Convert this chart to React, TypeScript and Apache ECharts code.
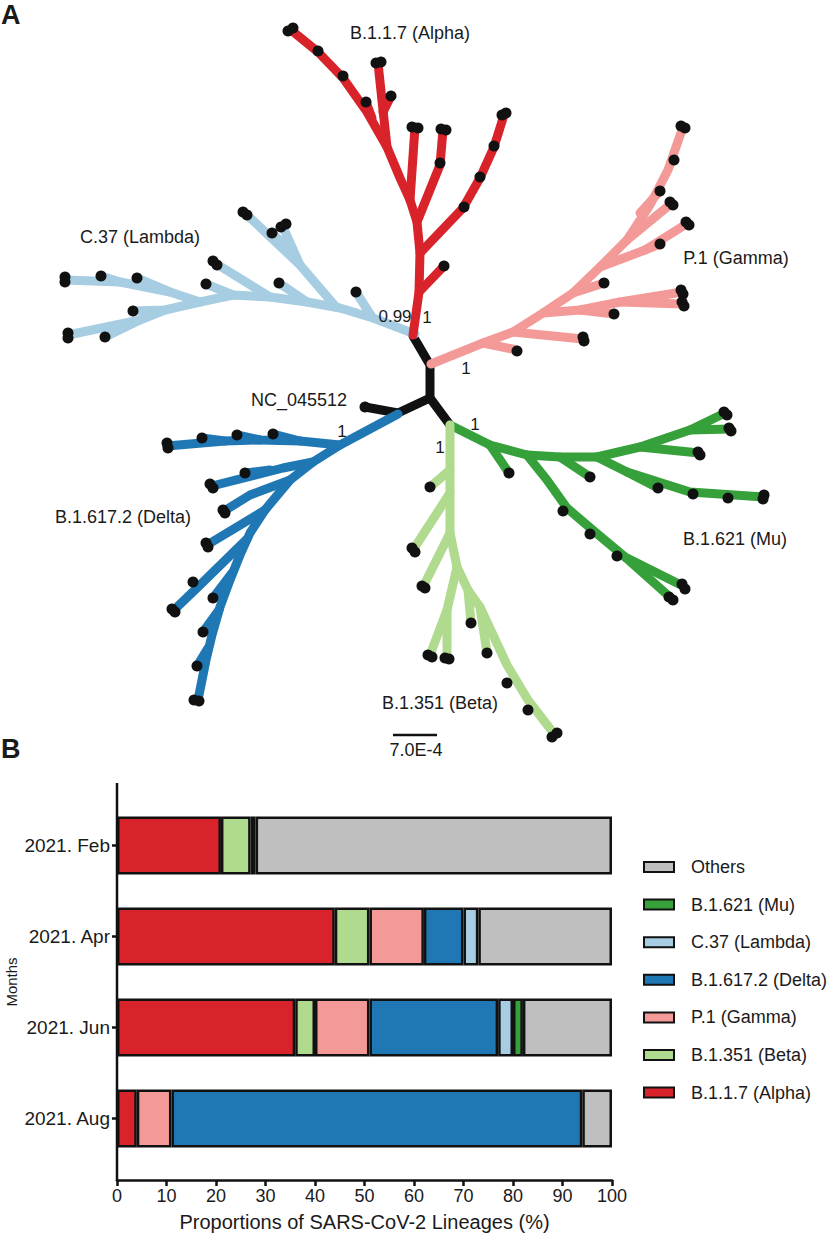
import React, { useEffect, useRef } from "react";
import * as echarts from "echarts";

// ---------- Panel B data ----------
const months = ["2021. Feb", "2021. Apr", "2021. Jun", "2021. Aug"];
const alphaShare = [21, 44, 36, 4];
const betaShare = [6, 7, 4, 0];
const gammaShare = [1, 11, 11, 7];
const deltaShare = [0, 8, 26, 83];
const lambdaShare = [0, 3, 3, 0];
const muShare = [0, 0, 2, 0];
const othersShare = [72, 27, 18, 6];
const xTicks = [0, 10, 20, 30, 40, 50, 60, 70, 80, 90, 100];

// ---------- Panel A tree data (tree-layout units) ----------
type Pt = [number, number];
const rootBranches: Pt[][] = [
  [[413, 336], [430, 365], [430, 398], [450, 425]],
  [[430, 398], [398, 413], [365, 407]],
];
const rootTips: Pt[] = [[365, 407]];

const alphaBranches: Pt[][] = [
  [[413, 335], [419, 292], [420, 253], [417, 222], [410, 200], [400, 178], [387, 147], [367, 112], [343, 78], [318, 52], [291, 30]],
  [[419, 292], [444, 266]],
  [[420, 253], [463, 208], [480, 178], [494, 147], [504, 115]],
  [[417, 222], [440, 165], [443, 130]],
  [[410, 200], [415, 127]],
  [[387, 147], [383, 110], [378, 63]],
  [[383, 112], [391, 96]],
  [[372, 118], [366, 102]],
];
const alphaTips: Pt[] = [
  [444, 266], [464, 207], [480, 177], [494, 146], [502, 115], [506, 113],
  [440, 163], [441, 129], [446, 130], [412, 127], [418, 128],
  [391, 96], [376, 63], [381, 62], [366, 102], [343, 76], [318, 51], [288, 31], [293, 28],
];

const lambdaBranches: Pt[][] = [
  [[415, 334], [373, 318], [340, 308], [307, 302], [270, 297], [233, 295], [200, 302]],
  [[372, 317], [356, 292]],
  [[336, 307], [300, 265], [245, 213]],
  [[300, 265], [283, 227]],
  [[290, 250], [272, 233]],
  [[307, 302], [279, 283]],
  [[270, 297], [215, 263]],
  [[233, 295], [206, 284]],
  [[200, 302], [170, 292], [137, 278]],
  [[170, 292], [120, 282], [101, 276]],
  [[120, 282], [65, 280]],
  [[200, 302], [165, 310], [133, 311]],
  [[165, 310], [140, 320], [105, 337]],
  [[140, 320], [68, 335]],
];
const lambdaTips: Pt[] = [
  [356, 292], [243, 212], [247, 215], [281, 227], [286, 224], [272, 233], [279, 283],
  [213, 261], [217, 265], [206, 284], [137, 278], [101, 276], [65, 277], [65, 282],
  [133, 311], [105, 337], [68, 333], [68, 338],
];

const deltaBranches: Pt[][] = [
  [[398, 414], [340, 445], [313, 462], [290, 480], [265, 510], [250, 533], [240, 555], [230, 580], [220, 607], [212, 635], [206, 660], [202, 680], [198, 700]],
  [[340, 445], [300, 441], [273, 434]],
  [[300, 441], [260, 440], [237, 435]],
  [[260, 440], [225, 441], [202, 438]],
  [[225, 441], [167, 446]],
  [[313, 462], [283, 468], [212, 486]],
  [[270, 470], [245, 473]],
  [[290, 480], [250, 495], [224, 511]],
  [[265, 510], [207, 545]],
  [[246, 540], [200, 585], [173, 611]],
  [[232, 573], [213, 598]],
  [[219, 610], [203, 632]],
  [[208, 648], [197, 666]],
];
const deltaTips: Pt[] = [
  [273, 434], [237, 435], [202, 438], [167, 443], [168, 448], [245, 473], [210, 484], [213, 488],
  [223, 510], [225, 513], [206, 543], [208, 547], [193, 582], [172, 609], [175, 612],
  [213, 598], [203, 632], [197, 666], [194, 700], [199, 701],
];

const gammaBranches: Pt[][] = [
  [[431, 364], [483, 343], [513, 332], [543, 313], [573, 293], [600, 267], [627, 240], [650, 205], [668, 170], [683, 127]],
  [[483, 343], [517, 350]],
  [[513, 332], [583, 339]],
  [[543, 313], [580, 310], [614, 314]],
  [[580, 310], [620, 302], [682, 292]],
  [[620, 302], [683, 304]],
  [[573, 293], [604, 283]],
  [[600, 267], [645, 250], [688, 223]],
  [[645, 250], [660, 244]],
  [[627, 240], [672, 203]],
  [[640, 213], [660, 191]],
];
const gammaTips: Pt[] = [
  [517, 351], [583, 337], [584, 341], [614, 314], [681, 290], [683, 294], [682, 302], [684, 306],
  [604, 283], [660, 244], [686, 222], [689, 225], [670, 202], [673, 205], [660, 191], [674, 160],
  [681, 126], [685, 128],
];

const muBranches: Pt[][] = [
  [[450, 425], [490, 445], [527, 455], [560, 457], [597, 457]],
  [[490, 445], [509, 473]],
  [[527, 455], [547, 480], [567, 508], [595, 532], [625, 557], [683, 586]],
  [[625, 557], [671, 598]],
  [[560, 457], [590, 477]],
  [[597, 457], [640, 447], [699, 453]],
  [[640, 447], [690, 430], [725, 413]],
  [[690, 430], [730, 429]],
  [[597, 457], [627, 472], [658, 488]],
  [[627, 472], [690, 492], [764, 497]],
];
const muTips: Pt[] = [
  [509, 473], [563, 511], [590, 534], [617, 556], [682, 584], [685, 589], [669, 597], [673, 600],
  [590, 477], [698, 452], [700, 455], [724, 412], [727, 415], [729, 428], [731, 431],
  [658, 488], [693, 494], [728, 498], [764, 495], [763, 499],
];

const betaBranches: Pt[][] = [
  [[450, 425], [450, 470], [450, 493], [450, 533], [457, 567]],
  [[450, 470], [430, 487]],
  [[450, 493], [413, 550]],
  [[450, 533], [423, 587]],
  [[457, 567], [447, 610], [430, 655]],
  [[447, 610], [447, 658]],
  [[457, 567], [468, 590], [471, 623]],
  [[468, 590], [480, 607], [487, 653]],
  [[480, 607], [507, 665], [528, 700], [555, 735]],
];
const betaTips: Pt[] = [
  [430, 487], [412, 548], [415, 552], [422, 586], [425, 588], [428, 655], [432, 657],
  [445, 658], [449, 659], [471, 623], [487, 653], [507, 683], [528, 710], [557, 733], [552, 737],
];

const C = {
  alpha: "#d9232a",
  beta: "#b0da8e",
  gamma: "#f39a98",
  delta: "#1f77b4",
  lambda: "#a6cde2",
  mu: "#36a03a",
  others: "#c0bfbf",
  ink: "#111111",
};

const FONT = "'Liberation Sans', Arial, Helvetica, sans-serif";

function treeSeries(paths: Pt[][], tips: Pt[], color: string, z: number) {
  return [
    {
      type: "lines",
      coordinateSystem: "cartesian2d",
      xAxisIndex: 0,
      yAxisIndex: 0,
      polyline: true,
      silent: true,
      z,
      data: paths.map((p) => ({ coords: p })),
      lineStyle: { color, width: 9, opacity: 1, cap: "round", join: "round", curveness: 0 },
    },
    {
      type: "scatter",
      xAxisIndex: 0,
      yAxisIndex: 0,
      silent: true,
      z: 10,
      symbolSize: 11,
      data: tips,
      itemStyle: { color: C.ink, opacity: 1 },
    },
  ];
}

function txt(text: string, x: number, y: number, size = 18, bold = false, align = "center", rotation = 0) {
  return {
    type: "text",
    z: 100,
    x,
    y,
    rotation,
    style: {
      text,
      x: 0,
      y: 0,
      fill: "#1a1a1a",
      fontSize: size,
      fontFamily: FONT,
      fontWeight: bold ? "bold" : "normal",
      align,
      textAlign: align,
      verticalAlign: "middle",
      textVerticalAlign: "middle",
    },
  };
}

export default function App() {
  const ref = useRef<HTMLDivElement>(null);
  useEffect(() => {
    document.body.style.margin = "0";
    const chart = echarts.init(ref.current!, null, { renderer: "svg" });

    const lineages = [
      { name: "B.1.1.7 (Alpha)", data: alphaShare, color: C.alpha },
      { name: "B.1.351 (Beta)", data: betaShare, color: C.beta },
      { name: "P.1 (Gamma)", data: gammaShare, color: C.gamma },
      { name: "B.1.617.2 (Delta)", data: deltaShare, color: C.delta },
      { name: "C.37 (Lambda)", data: lambdaShare, color: C.lambda },
      { name: "B.1.621 (Mu)", data: muShare, color: C.mu },
      { name: "Others", data: othersShare, color: C.others },
    ];
    const legendOrder = [...lineages].reverse().map((l) => l.name);

    const barSeries = lineages.map((l) => ({
      type: "bar",
      name: l.name,
      stack: "total",
      xAxisIndex: 1,
      yAxisIndex: 1,
      barWidth: 58,
      data: l.data.map((v) => (v === 0 ? "-" : v)),
      itemStyle: { color: l.color, borderColor: C.ink, borderWidth: 2.5 },
      emphasis: { disabled: true },
    }));

    const option: any = {
      animation: false,
      textStyle: { fontFamily: FONT },
      grid: [
        { left: 0, top: 0, width: 827, height: 770, outerBoundsMode: "none", containLabel: false },
        { left: 117, top: 800, width: 495, height: 364, outerBoundsMode: "none", containLabel: false },
      ],
      xAxis: [
        { type: "value", gridIndex: 0, min: 0, max: 827, show: false },
        {
          type: "value",
          gridIndex: 1,
          min: 0,
          max: 100,
          interval: 10,
          offset: 16,
          splitLine: { show: false },
          axisLine: { show: true, lineStyle: { color: C.ink, width: 2.5 } },
          axisTick: { show: true, length: 6, lineStyle: { color: C.ink, width: 2.5 } },
          axisLabel: {
            fontSize: 18,
            color: "#1a1a1a",
            margin: 7,
            formatter: (v: number) => (xTicks.includes(v) ? String(v) : ""),
          },
          name: "Proportions of SARS-CoV-2 Lineages (%)",
          nameLocation: "middle",
          nameGap: 32,
          nameTextStyle: { fontSize: 20, color: "#1a1a1a" },
        },
      ],
      yAxis: [
        { type: "value", gridIndex: 0, min: 0, max: 770, inverse: true, show: false },
        {
          type: "category",
          gridIndex: 1,
          inverse: true,
          data: months,
          axisLine: { show: false },
          axisTick: { show: true, alignWithLabel: true, length: 5, lineStyle: { color: C.ink, width: 2.5 } },
          axisLabel: { fontSize: 19, color: "#1a1a1a", margin: 7 },
        },
      ],
      legend: legendOrder.map((name, i) => ({
        data: [name],
        left: 643,
        top: 858 + i * 37.6,
        padding: 0,
        orient: "vertical",
        icon: "rect",
        itemWidth: 30,
        itemHeight: 10,
        selectedMode: false,
        textStyle: { fontSize: 18, color: "#1a1a1a", padding: [0, 0, 0, 12] },
      })),
      series: [
        ...treeSeries(rootBranches, rootTips, C.ink, 1),
        ...treeSeries(lambdaBranches, lambdaTips, C.lambda, 2),
        ...treeSeries(alphaBranches, alphaTips, C.alpha, 2),
        ...treeSeries(gammaBranches, gammaTips, C.gamma, 2),
        ...treeSeries(deltaBranches, deltaTips, C.delta, 2),
        ...treeSeries(muBranches, muTips, C.mu, 2),
        ...treeSeries(betaBranches, betaTips, C.beta, 2),
        ...barSeries,
      ],
      graphic: [
        txt("A", 1, 15, 27, true, "left"),
        txt("B", 1, 749, 27, true, "left"),
        txt("Months", 11, 982, 15, false, "center", Math.PI / 2),
        txt("B.1.1.7 (Alpha)", 410, 33),
        txt("C.37 (Lambda)", 140, 237),
        txt("P.1 (Gamma)", 736, 258),
        txt("NC_045512", 299, 400),
        txt("B.1.617.2 (Delta)", 123, 517),
        txt("B.1.621 (Mu)", 735, 539),
        txt("B.1.351 (Beta)", 440, 703),
        txt("7.0E-4", 416, 750),
        txt("0.99", 395, 316, 17),
        txt("1", 427, 317, 17),
        txt("1", 466, 368, 17),
        txt("1", 342, 431, 17),
        txt("1", 475, 424, 17),
        txt("1", 440, 447, 17),
        {
          type: "line",
          z: 100,
          shape: { x1: 393, y1: 735, x2: 437, y2: 735 },
          style: { stroke: C.ink, lineWidth: 2.5 },
        },
        {
          type: "line",
          z: 100,
          shape: { x1: 117, y1: 783, x2: 117, y2: 1181 },
          style: { stroke: C.ink, lineWidth: 2.5 },
        },
      ],
    };
    chart.setOption(option);
    return () => chart.dispose();
  }, []);

  return (
    <div
      ref={ref}
      style={{ position: "absolute", left: 0, top: 0, width: 827, height: 1234, background: "#fff" }}
    />
  );
}
